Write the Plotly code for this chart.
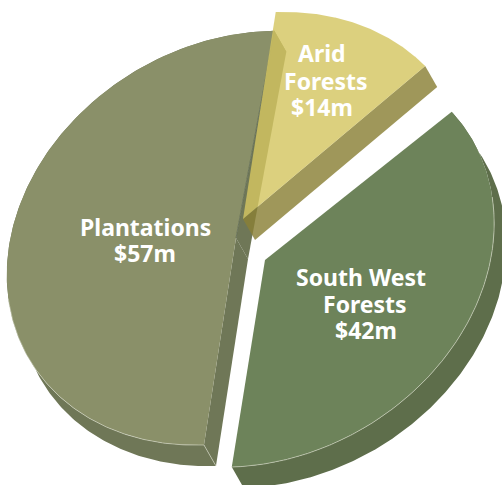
import numpy as np
import plotly.graph_objects as go

# Forest investment by region, in $ million
regions = ["Arid Forests", "South West Forests", "Plantations"]
values = [14, 42, 57]
label_lines = [["Arid", "Forests"], ["South West", "Forests"], ["Plantations"]]

WIDTH, HEIGHT = 502, 485

# Projection of the tilted disc onto the page: image of the 12 o'clock radius
# and of the 3 o'clock radius, plus the extrusion vector for the slab thickness.
RADIUS_UP = np.array([32.0, -207.0])
RADIUS_SIDE = np.array([227.0, -8.0])
DEPTH = np.array([12.0, 21.0])

# Per-slice layout: exploded apex on the page and a small start-angle nudge.
style = {
    "Arid Forests": dict(apex=(243, 219), nudge=0.0,
                         top="rgba(212,198,98,0.82)", wall="rgba(138,128,54,0.82)",
                         text=[(322, 53), (326, 81), (322, 107)]),
    "South West Forests": dict(apex=(265, 260), nudge=1.9,
                               top="#6d835a", wall="#5e6e4b",
                               text=[(361, 277), (365, 304), (366, 330)]),
    "Plantations": dict(apex=(236, 238), nudge=1.6,
                        top="#8a9069", wall="#6f7757",
                        text=[(145, 227), (145, 253)]),
}
EDGE = "rgba(215,218,200,0.75)"
FONT = dict(family="Noto Sans", size=23, color="white", weight=700)


def rim(apex, phi_deg):
    """Page coordinates of rim points at clockwise angles from 12 o'clock."""
    phi = np.radians(phi_deg)[:, None]
    return np.asarray(apex) + np.cos(phi) * RADIUS_UP + np.sin(phi) * RADIUS_SIDE


def polygon(points, color, name):
    pts = np.vstack([points, points[:1]])
    return go.Scatter(x=pts[:, 0], y=pts[:, 1], mode="lines", fill="toself",
                      fillcolor=color, line=dict(width=0), name=name,
                      hoverinfo="name", showlegend=False)


def outline(points, color, width=0.8):
    return go.Scatter(x=points[:, 0], y=points[:, 1], mode="lines",
                      line=dict(color=color, width=width),
                      hoverinfo="skip", showlegend=False)


# Cumulative slice angles, straight from the values
total = sum(values)
spans = [v / total * 360 for v in values]
starts = np.concatenate([[0], np.cumsum(spans)[:-1]])
geometry = {}
for region, start, span in zip(regions, starts, spans):
    s = style[region]
    phi = np.linspace(start + s["nudge"], start + s["nudge"] + span, 240)
    geometry[region] = (np.asarray(s["apex"], float), rim(s["apex"], phi))

fig = go.Figure()

# Plantations slab: outer wall and both cut faces, under everything
apex, arc = geometry["Plantations"]
s = style["Plantations"]
fig.add_trace(polygon(np.vstack([arc, (arc + DEPTH)[::-1]]), s["wall"], "Plantations wall"))
fig.add_trace(polygon(np.array([apex, arc[0], arc[0] + DEPTH, apex + DEPTH]), s["wall"], "Plantations cut"))
fig.add_trace(polygon(np.array([apex, arc[-1], arc[-1] + DEPTH, apex + DEPTH]), s["wall"], "Plantations cut"))
fig.add_trace(polygon(np.vstack([[apex], arc]), s["top"], "Plantations"))
fig.add_trace(outline(arc[:100], EDGE))
fig.add_trace(outline(np.array([arc[0], arc[0] + DEPTH]), EDGE))
fig.add_trace(outline(np.array([apex, arc[-1]]), "#5f6a52", 0.8))

# South West slab
apex, arc = geometry["South West Forests"]
s = style["South West Forests"]
fig.add_trace(polygon(np.vstack([arc, (arc + DEPTH)[::-1]]), s["wall"], "South West wall"))
fig.add_trace(polygon(np.vstack([[apex], arc]), s["top"], "South West Forests"))
fig.add_trace(outline(arc[50:], EDGE))

# Arid slab is translucent, so the Plantations cut face shows through it
apex, arc = geometry["Arid Forests"]
s = style["Arid Forests"]
fig.add_trace(polygon(np.array([apex, arc[-1], arc[-1] + DEPTH, apex + DEPTH]), s["wall"], "Arid wall"))
fig.add_trace(polygon(np.vstack([[apex], arc]), s["top"], "Arid Forests"))

# Labels, one annotation per line so the leading can be set exactly
annotations = []
for region, value, lines in zip(regions, values, label_lines):
    texts = lines + [f"${value}m"]
    for text, (x, y) in zip(texts, style[region]["text"]):
        annotations.append(dict(x=x, y=y, text=text, showarrow=False, font=FONT,
                                xanchor="center", yanchor="middle"))

fig.update_layout(
    width=WIDTH, height=HEIGHT, autosize=False,
    margin=dict(l=0, r=0, t=0, b=0),
    paper_bgcolor="white", plot_bgcolor="white",
    showlegend=False, annotations=annotations,
    xaxis=dict(range=[0, WIDTH], visible=False, fixedrange=True),
    yaxis=dict(range=[HEIGHT, 0], visible=False, fixedrange=True),
)
fig.write_html("out.html", config=dict(displayModeBar=False))
